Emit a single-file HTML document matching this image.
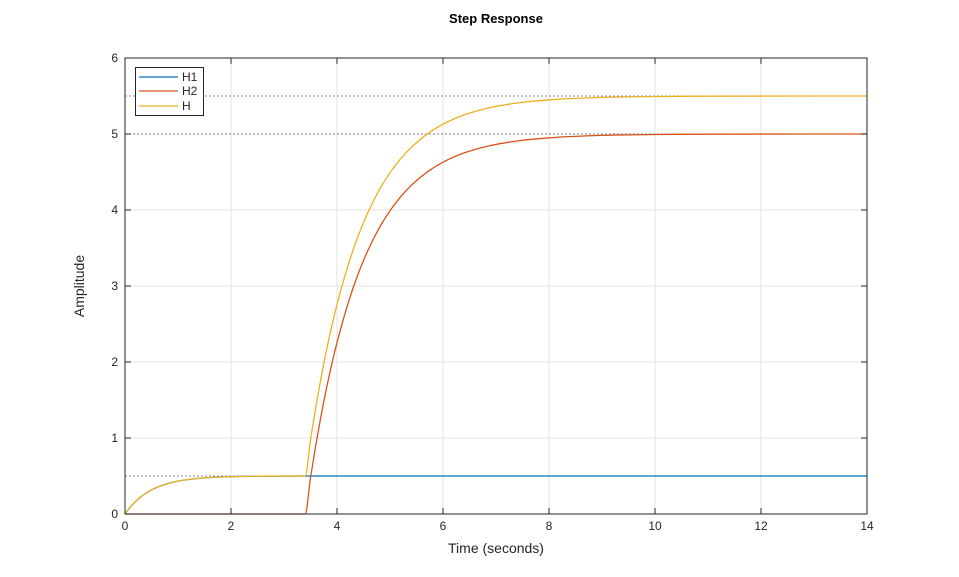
<!DOCTYPE html>
<html><head><meta charset="utf-8"><style>
body{margin:0;background:#fff;font-family:"Liberation Sans",Arial,sans-serif}
svg{display:block}
</style></head><body>
<svg id="chart" width="959" height="577">
<rect width="959" height="577" fill="#fff"/>
</svg>
<script>
const xTicks=[0,2,4,6,8,10,12,14];
const yTicks=[0,1,2,3,4,5,6];
const steadyLevels=[0.5,5,5.5];
const h1Time=[0,0.1,0.2,0.3,0.5,0.75,1,1.5,2,3,4,14];
const h1Vals=[0,0.091,0.165,0.226,0.316,0.388,0.432,0.475,0.491,0.499,0.5,0.5];
const h2Time=[0,3.4,3.5,3.6,3.7,3.8,3.9,4.0,4.2,4.4,4.6,4.8,5.0,5.2,5.4,5.7,6.0,6.4,6.9,7.4,8,9,10,12,14];
const h2Vals=[0,0,0.476,0.906,1.296,1.648,1.967,2.256,2.753,3.161,3.494,3.767,3.991,4.174,4.323,4.499,4.629,4.751,4.849,4.908,4.95,4.982,4.993,4.999,5.0];
const hTime=[0,0.1,0.2,0.3,0.5,0.75,1,1.5,2,3,3.4,3.5,3.6,3.7,3.8,3.9,4.0,4.2,4.4,4.6,4.8,5.0,5.2,5.4,5.7,6.0,6.4,6.9,7.4,8,9,10,12,14];
const hVals=[0,0.091,0.165,0.226,0.316,0.388,0.432,0.475,0.491,0.499,0.499,0.976,1.406,1.796,2.148,2.467,2.756,3.253,3.661,3.994,4.267,4.491,4.674,4.823,4.999,5.129,5.251,5.349,5.408,5.45,5.482,5.493,5.499,5.5];
const X0=125,X1=867,Y0=514,Y1=58;
const sx=v=>X0+(v-0)/(14-0)*(X1-X0);
const sy=v=>Y0-(v-0)/(6-0)*(Y0-Y1);
const svg=document.getElementById('chart');
const NS='http://www.w3.org/2000/svg';
function mk(tag,attrs,parent){const e=document.createElementNS(NS,tag);for(const k in attrs)e.setAttribute(k,attrs[k]);(parent||svg).appendChild(e);return e;}
xTicks.forEach(t=>{
 const g=mk('line',{x1:sx(t),x2:sx(t),y1:Y1,y2:Y0,stroke:'#e3e3e3','stroke-width':1});
 
 
});
yTicks.forEach(t=>{
 const g=mk('line',{x1:X0,x2:X1,y1:sy(t),y2:sy(t),stroke:'#e3e3e3','stroke-width':1});
 
 
});
steadyLevels.forEach(v=>{
 const l=mk('line',{x1:X0,x2:X1,y1:sy(v),y2:sy(v),stroke:'#888','stroke-width':1,'stroke-dasharray':'2,2'});
 
 
});
// monotone cubic (Fritsch-Carlson) path in pixel space
function monoPath(T,V){
 const x=T.map(sx),y=V.map(sy),n=x.length;
 const d=[],m=[];
 for(let i=0;i<n-1;i++)d.push((y[i+1]-y[i])/(x[i+1]-x[i]));
 m[0]=d[0];m[n-1]=d[n-2];
 for(let i=1;i<n-1;i++){m[i]=(d[i-1]*d[i]<=0)?0:(d[i-1]+d[i])/2;}
 for(let i=0;i<n-1;i++){
  if(d[i]===0){m[i]=0;m[i+1]=0;continue;}
  const a=m[i]/d[i],b=m[i+1]/d[i],s=a*a+b*b;
  if(s>9){const t=3/Math.sqrt(s);m[i]=t*a*d[i];m[i+1]=t*b*d[i];}
 }
 let p='M'+x[0].toFixed(2)+','+y[0].toFixed(2);
 for(let i=0;i<n-1;i++){
  const h=(x[i+1]-x[i])/3;
  p+=' C'+(x[i]+h).toFixed(2)+','+(y[i]+m[i]*h).toFixed(2)+' '+(x[i+1]-h).toFixed(2)+','+(y[i+1]-m[i+1]*h).toFixed(2)+' '+x[i+1].toFixed(2)+','+y[i+1].toFixed(2);
 }
 return p;
}
function series(T,V,color,name){
 const p=mk('path',{d:monoPath(T,V),fill:'none',stroke:color,'stroke-width':1.3});
 
 
}
series(h1Time,h1Vals,'#0072BD','series-h1');
series(h2Time,h2Vals,'#D95319','series-h2');
series(hTime,hVals,'#EDB120','series-h');
const box=mk('rect',{x:X0,y:Y1,width:X1-X0,height:Y0-Y1,fill:'none',stroke:'#262626','stroke-width':1});


xTicks.forEach(t=>{
 mk('line',{x1:sx(t),x2:sx(t),y1:Y0,y2:Y0-6,stroke:'#262626'});
 mk('line',{x1:sx(t),x2:sx(t),y1:Y1,y2:Y1+6,stroke:'#262626'});
 const tx=mk('text',{x:sx(t),y:Y0+16,'text-anchor':'middle','font-size':12,fill:'#262626'});
 tx.textContent=t;
 
 
});
yTicks.forEach(t=>{
 mk('line',{x1:X0,x2:X0+6,y1:sy(t),y2:sy(t),stroke:'#262626'});
 mk('line',{x1:X1,x2:X1-6,y1:sy(t),y2:sy(t),stroke:'#262626'});
 const tx=mk('text',{x:X0-7,y:sy(t)+4,'text-anchor':'end','font-size':12,fill:'#262626'});
 tx.textContent=t;
 
 
});
</script>
<svg width="959" height="577" style="position:absolute;left:0;top:0">
<text x="496" y="23" text-anchor="middle" font-size="13" font-weight="bold" fill="#000" font-family="Liberation Sans, sans-serif">Step Response</text>
<text x="496" y="553" text-anchor="middle" font-size="14" fill="#262626" font-family="Liberation Sans, sans-serif">Time (seconds)</text>
<text transform="translate(84,286) rotate(-90)" text-anchor="middle" font-size="14" fill="#262626" font-family="Liberation Sans, sans-serif">Amplitude</text>
<g>
<rect x="135.5" y="67.5" width="68" height="48" fill="#fff" stroke="#262626"/>
<line x1="139" x2="178" y1="77" y2="77" stroke="#0072BD" stroke-width="1.3"/>
<text x="182" y="81" font-size="12" fill="#262626" font-family="Liberation Sans, sans-serif">H1</text>
<line x1="139" x2="178" y1="91" y2="91" stroke="#D95319" stroke-width="1.3"/>
<text x="182" y="95" font-size="12" fill="#262626" font-family="Liberation Sans, sans-serif">H2</text>
<line x1="139" x2="178" y1="106" y2="106" stroke="#EDB120" stroke-width="1.3"/>
<text x="182" y="110" font-size="12" fill="#262626" font-family="Liberation Sans, sans-serif">H</text>
</g>
</svg>
</body></html>
